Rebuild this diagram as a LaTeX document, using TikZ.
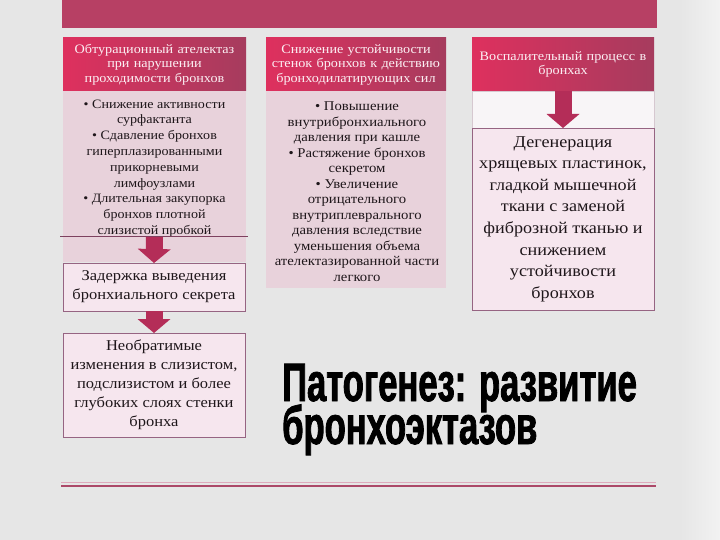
\documentclass[tikz,border=0pt]{standalone}
\usepackage{fontspec}
\setmainfont[FakeStretch=1.1]{Liberation Serif}
\newfontfamily\titlefont[FakeStretch=0.64,FakeBold=1.5]{Liberation Sans}
\usetikzlibrary{arrows.meta}
\definecolor{bgc}{RGB}{230,230,230}
\definecolor{bgl}{RGB}{242,242,242}
\definecolor{bannerc}{RGB}{183,64,100}
\definecolor{hdrL}{RGB}{222,48,94}
\definecolor{hdrR}{RGB}{166,60,94}
\definecolor{hdrtext}{RGB}{252,240,244}
\definecolor{bodyc}{RGB}{232,210,219}
\definecolor{lightc}{RGB}{246,230,238}
\definecolor{lightborder}{RGB}{150,100,130}
\definecolor{whitec}{RGB}{248,245,247}
\definecolor{whiteborder}{RGB}{214,200,208}
\definecolor{arrowc}{RGB}{180,45,88}
\definecolor{footc}{RGB}{172,72,104}
\definecolor{footl}{RGB}{222,170,188}
\definecolor{linec}{RGB}{125,65,95}
\definecolor{txt}{RGB}{30,22,26}
\begin{document}
\begin{tikzpicture}[x=1pt,y=-1pt,
  box/.style={anchor=north west, inner sep=0pt, outer sep=0pt},
  hdr/.style={box, left color=hdrL, right color=hdrR, text=hdrtext, align=center,
    font=\fontsize{12.9}{14.5}\selectfont},
  bodytext/.style={anchor=north, inner sep=0pt, align=center, text=txt},
  lightbox/.style={box, fill=lightc, draw=lightborder, line width=0.6pt, align=center, text=txt},
  barrow/.style={draw=arrowc, line width=17pt, -{Triangle[width=33pt,length=14pt,line width=0pt]}},
  titletext/.style={anchor=base west, inner sep=0pt, text=black, font=\titlefont\bfseries\fontsize{54}{40}\selectfont},
]
% background
\fill[bgc] (0,0) rectangle (720,540);
\shade[left color=bgc, right color=bgl] (680,0) rectangle (720,540);
\useasboundingbox (0,0) rectangle (720,540);

% banner
\node[box, fill=bannerc, minimum width=595pt, minimum height=28pt] (banner) at (62,0) {};

% column 1
\node[box, fill=bodyc, minimum width=183pt, minimum height=171pt] (body1) at (63,91) {};
\node[hdr, minimum width=183pt, minimum height=53pt, text width=179pt] (h1) at (63,38)
  {Обтурационный ателектаз\\при нарушении\\проходимости бронхов};
\node[bodytext, font=\fontsize{12.8}{15.8}\selectfont] (t1) at (154.5,99.5)
  {• Снижение активности\\сурфактанта\\• Сдавление бронхов\\гиперплазированными\\прикорневыми\\лимфоузлами\\• Длительная закупорка\\бронхов плотной\\слизистой пробкой};
\coordinate (l1a) at (60,236.5);
\coordinate (l1b) at (248,236.5);
\draw[linec, line width=0.8pt] (l1a) -- (l1b);
\node[lightbox, minimum width=182pt, minimum height=48pt, font=\fontsize{15}{19}\selectfont] (zad) at (63,263)
  {Задержка выведения\\бронхиального секрета};
\node[lightbox, minimum width=182pt, minimum height=104pt, font=\fontsize{15}{19}\selectfont] (neo) at (63,333)
  {Необратимые\\изменения в слизистом,\\подслизистом и более\\глубоких слоях стенки\\бронха};
\coordinate (a1s) at (154.5,237);
\draw[barrow] (a1s) -- (zad.north);
\draw[barrow] (zad.south) -- (neo.north);

% column 2
\node[box, fill=bodyc, minimum width=180pt, minimum height=197pt] (body2) at (266,91) {};
\node[hdr, minimum width=180pt, minimum height=53pt, text width=178pt] (h2) at (266,38)
  {Снижение устойчивости\\стенок бронхов к действию\\бронходилатирующих сил};
\node[bodytext, font=\fontsize{13.4}{15.5}\selectfont] (t2) at (357,102)
  {• Повышение\\внутрибронхиального\\давления при кашле\\• Растяжение бронхов\\секретом\\• Увеличение\\отрицательного\\внутриплеврального\\давления вследствие\\уменьшения объема\\ателектазированной части\\легкого};

% column 3
\node[box, fill=whitec, draw=whiteborder, line width=0.5pt, minimum width=182pt, minimum height=37pt] (w3) at (472,91) {};
\node[hdr, minimum width=182pt, minimum height=53pt, text width=178pt] (h3) at (472,38)
  {Воспалительный процесс в\\бронхах};
\node[lightbox, minimum width=182pt, minimum height=182pt, font=\fontsize{16.5}{21.6}\selectfont] (deg) at (472,128)
  {Дегенерация\\хрящевых пластинок,\\гладкой мышечной\\ткани с заменой\\фиброзной тканью и\\снижением\\устойчивости\\бронхов};
\draw[barrow] (h3.south) -- (deg.north);

% title
\node[titletext] (title1) at (282,401) {Патогенез: развитие};
\node[titletext] (title2) at (282,444) {бронхоэктазов};

% footer line
\coordinate (f1a) at (61,482.5);
\coordinate (f1b) at (656,482.5);
\coordinate (f2a) at (61,486);
\coordinate (f2b) at (656,486);
\draw[footl, line width=0.8pt] (f1a) -- (f1b);
\draw[footc, line width=2pt] (f2a) -- (f2b);
\end{tikzpicture}
\end{document}
